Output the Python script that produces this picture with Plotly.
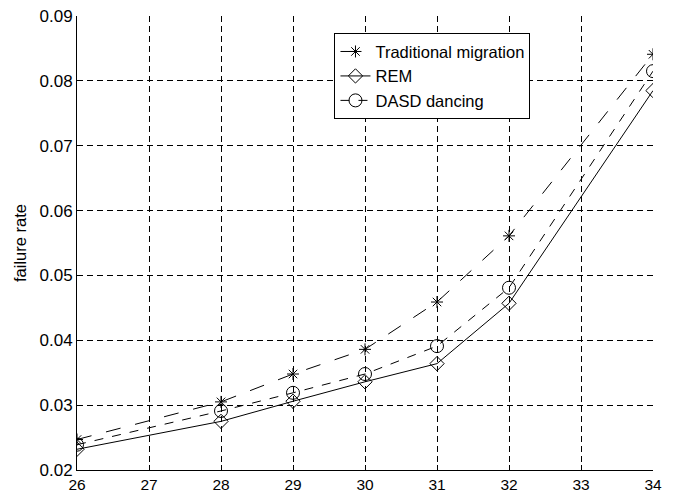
import plotly.graph_objects as go

x_vals = [26, 28, 29, 30, 31, 32, 34]
traditional = [0.0247, 0.0305, 0.0348, 0.0386, 0.0459, 0.0561, 0.0841]
rem = [0.0232, 0.0275, 0.0306, 0.0336, 0.0364, 0.0457, 0.0785]
dasd = [0.0239, 0.0291, 0.0319, 0.0348, 0.0391, 0.0481, 0.0815]

x_ticks = [26, 27, 28, 29, 30, 31, 32, 33, 34]
y_ticks = [0.02, 0.03, 0.04, 0.05, 0.06, 0.07, 0.08, 0.09]
y_ticktext = ["0.02", "0.03", "0.04", "0.05", "0.06", "0.07", "0.08", "0.09"]

FONT = "Liberation Sans, Arial, sans-serif"

fig = go.Figure()
fig.add_trace(go.Scatter(
    x=x_vals, y=traditional, name="Traditional migration", mode="lines+markers",
    line=dict(color="black", width=1, dash="longdash"),
    marker=dict(symbol="asterisk-open", size=10, color="black", line=dict(color="black", width=1)),
))
fig.add_trace(go.Scatter(
    x=x_vals, y=rem, name="REM", mode="lines+markers",
    line=dict(color="black", width=1, dash="solid"),
    marker=dict(symbol="diamond-open", size=11, color="black", line=dict(color="black", width=1)),
))
fig.add_trace(go.Scatter(
    x=x_vals, y=dasd, name="DASD dancing", mode="lines+markers",
    line=dict(color="black", width=1, dash="dash"),
    marker=dict(symbol="circle-open", size=13, color="black", line=dict(color="black", width=1)),
))

x_font = dict(family=FONT, size=15.5, color="black")
y_font = dict(family=FONT, size=17, color="black")

fig.update_layout(
    width=676, height=493,
    margin=dict(l=77, r=23, t=16, b=23),
    paper_bgcolor="white", plot_bgcolor="white",
    font=y_font,
    showlegend=True,
    legend=dict(
        x=0.447, y=0.962, xanchor="left", yanchor="top",
        bgcolor="white", bordercolor="black", borderwidth=1,
        font=dict(family=FONT, size=16.5, color="black"),
        tracegroupgap=0, itemwidth=30,
    ),
    xaxis=dict(
        range=[26, 34], tickvals=x_ticks, ticktext=[str(t) for t in x_ticks],
        showline=True, linecolor="black", linewidth=1, mirror=False,
        ticks="inside", ticklen=5, tickcolor="black",
        showgrid=True, gridcolor="black", gridwidth=1, griddash="6px,4px",
        zeroline=False, tickfont=x_font, automargin=False,
    ),
    yaxis=dict(
        range=[0.02, 0.09], tickvals=y_ticks, ticktext=y_ticktext,
        showline=True, linecolor="black", linewidth=1, mirror=False,
        ticks="inside", ticklen=5, tickcolor="black",
        showgrid=True, gridcolor="black", gridwidth=1, griddash="6px,4px",
        zeroline=False, tickfont=y_font, automargin=False,
        title=dict(text="failure rate", font=dict(family=FONT, size=16.5, color="black"), standoff=8),
    ),
)

fig.write_html("out.html")
